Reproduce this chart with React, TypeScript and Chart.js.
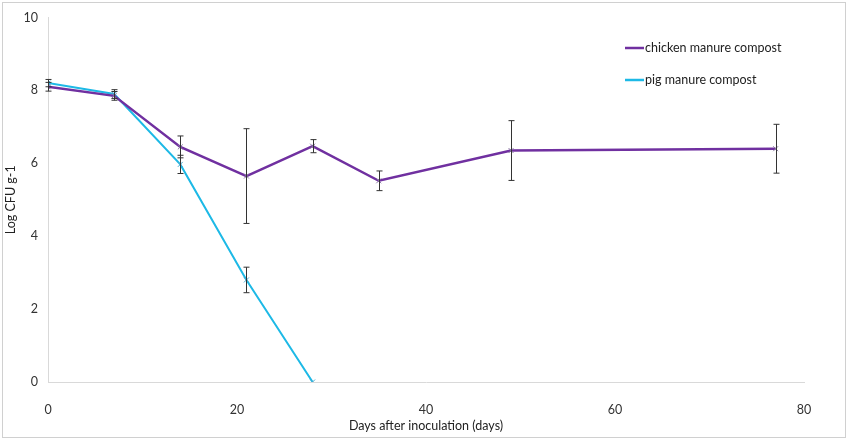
import React, { useEffect, useRef } from "react";
import { Chart, registerables } from "chart.js";

Chart.register(...registerables);

const days = [0, 7, 14, 21, 28, 35, 49, 77];
const chickenValues = [8.1, 7.85, 6.45, 5.65, 6.47, 5.52, 6.35, 6.4];
const chickenErrors = [0.12, 0.12, 0.3, 1.3, 0.18, 0.27, 0.82, 0.67];
const pigDays = [0, 7, 14, 21, 28];
const pigValues = [8.2, 7.9, 5.97, 2.8, 0];
const pigErrors = [0.1, 0.12, 0.25, 0.35, 0];
const seriesNames = ["chicken manure compost", "pig manure compost"];
const xTitle = "Days after inoculation (days)";
const yTitle = "Log CFU g-1";

const FONT = "Lato, 'Open Sans', sans-serif";
const PURPLE = "#7030A0";
const BLUE = "#1DB9E6";

export default function App() {
  const ref = useRef<HTMLCanvasElement>(null);
  useEffect(() => {
    document.body.style.margin = "0";
    const errs = [chickenErrors, pigErrors];
    const errorBars = {
      id: "errorBars",
      afterDatasetsDraw(chart: any) {
        const { ctx, scales } = chart;
        ctx.save();
        ctx.strokeStyle = "#333";
        ctx.lineWidth = 1;
        chart.data.datasets.forEach((ds: any, di: number) => {
          ds.data.forEach((p: any, i: number) => {
            const e = errs[di][i];
            if (!e) return;
            const x = Math.round(scales.x.getPixelForValue(p.x)) + 0.5;
            const y1 = scales.y.getPixelForValue(p.y + e);
            const y2 = scales.y.getPixelForValue(p.y - e);
            ctx.beginPath();
            ctx.moveTo(x, y1);
            ctx.lineTo(x, y2);
            ctx.moveTo(x - 3, y1);
            ctx.lineTo(x + 3, y1);
            ctx.moveTo(x - 3, y2);
            ctx.lineTo(x + 3, y2);
            ctx.stroke();
          });
        });
        ctx.restore();
      },
    };
    const frameLegend = {
      id: "frameLegend",
      afterDraw(chart: any) {
        const { ctx } = chart;
        ctx.save();
        ctx.strokeStyle = "#d0d0d0";
        ctx.lineWidth = 1;
        ctx.strokeRect(2.5, 2.5, 843, 435);
        const items = [
          { c: PURPLE, t: seriesNames[0], y: 48 },
          { c: BLUE, t: seriesNames[1], y: 80 },
        ];
        ctx.font = `12.5px ${FONT}`;
        ctx.textBaseline = "middle";
        ctx.fillStyle = "#222";
        items.forEach((it) => {
          ctx.strokeStyle = it.c;
          ctx.lineWidth = 2.5;
          ctx.beginPath();
          ctx.moveTo(625, it.y);
          ctx.lineTo(644, it.y);
          ctx.stroke();
          ctx.fillText(it.t, 645, it.y);
        });
        ctx.restore();
      },
    };
    const chart = new Chart(ref.current!, {
      type: "scatter",
      data: {
        datasets: [
          {
            label: seriesNames[0],
            data: days.map((d, i) => ({ x: d, y: chickenValues[i] })),
            showLine: true,
            borderColor: PURPLE,
            borderWidth: 2.5,
            pointStyle: "crossRot",
            pointRadius: 3.5,
            pointBorderColor: "#8a7aa0",
            pointBorderWidth: 1,
            pointBackgroundColor: "transparent",
          },
          {
            label: seriesNames[1],
            data: pigDays.map((d, i) => ({ x: d, y: pigValues[i] })),
            showLine: true,
            borderColor: BLUE,
            borderWidth: 2,
            pointStyle: "crossRot",
            pointRadius: 3.5,
            pointBorderColor: "#4aaad0",
            pointBorderWidth: 1,
            pointBackgroundColor: "transparent",
          },
        ],
      },
      options: {
        animation: false,
        responsive: false,
        layout: { padding: { top: 14, right: 43, left: 0, bottom: 0 } },
        plugins: { legend: { display: false }, tooltip: { enabled: false } },
        scales: {
          x: {
            type: "linear",
            min: 0,
            max: 80,
            afterFit: (s: any) => {
              s.height = 59;
            },
            ticks: { stepSize: 20, color: "#333", font: { family: FONT, size: 12.5 }, padding: 20 },
            grid: { display: false, drawTicks: false },
            border: { display: true, color: "#d9d9d9", width: 1 },
            title: { display: true, text: xTitle, color: "#222", font: { family: FONT, size: 12.5 }, padding: { top: 2, bottom: 8 } },
          },
          y: {
            min: 0,
            max: 10,
            afterFit: (s: any) => {
              s.width = 48;
            },
            ticks: { stepSize: 2, color: "#333", font: { family: FONT, size: 12.5 }, padding: 10 },
            grid: { display: false, drawTicks: false },
            border: { display: true, color: "#d9d9d9", width: 1 },
            title: { display: true, text: yTitle, color: "#222", font: { family: FONT, size: 12.5 }, padding: { top: 3, bottom: 0 } },
          },
        },
      },
      plugins: [errorBars, frameLegend],
    } as any);
    return () => chart.destroy();
  }, []);
  return (
    <div style={{ position: "absolute", left: 0, top: 0, width: 847, height: 441, background: "#fff" }}>
      <canvas ref={ref} width={847} height={441} style={{ width: 847, height: 441 }} />
    </div>
  );
}
